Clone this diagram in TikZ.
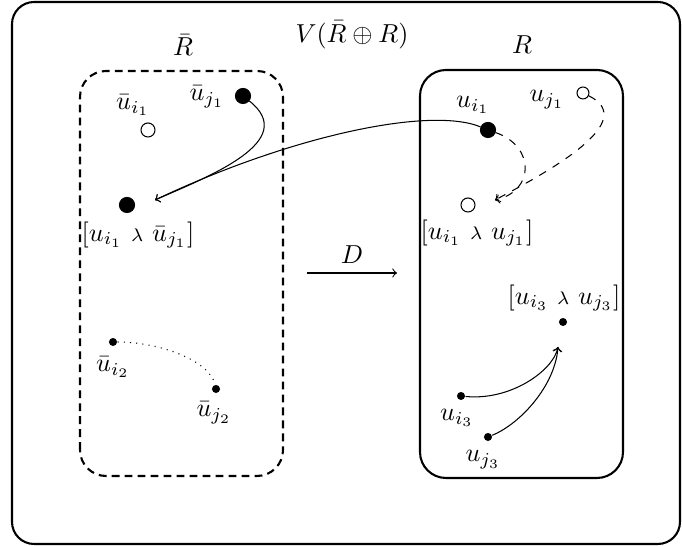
\documentclass[tikz,border=0pt]{standalone}
\begin{document}
\begin{tikzpicture}[x=0.385pt,y=0.385pt,
  frame/.style={draw, line width=0.8pt, rounded corners=8.5pt},
  solidbox/.style={draw, line width=0.8pt, rounded corners=10pt},
  dashbox/.style={draw, line width=0.8pt, rounded corners=10pt, dash pattern=on 3pt off 2pt},
  fdot/.style={circle, fill, draw, inner sep=0pt, minimum size=5.8pt},
  odot/.style={circle, draw, fill=white, inner sep=0pt, minimum size=5.4pt},
  sodot/.style={circle, draw, fill=white, inner sep=0pt, minimum size=4.6pt},
  sdot/.style={circle, fill, inner sep=0pt, minimum size=3.1pt},
  lbl/.style={inner sep=1pt},
  conn/.style={->, line width=0.4pt}]
\useasboundingbox (0,0) rectangle (682,546);
% frames
\draw[frame] (12,2) rectangle (680,544);
\draw[dashbox] (80,70) rectangle (283,475);
\draw[solidbox] (420,68) rectangle (623,476);
% titles
\node[lbl] (tRbar) at (183,501) {$\bar R$};
\node[lbl] (tV) at (352,511) {$V(\bar R\oplus R)$};
\node[lbl] (tR) at (522,501) {$R$};
% left box
\node[lbl] (lubi1) at (133,441) {$\bar u_{i_1}$};
\node[odot] (ubi1) at (148,416) {};
\node[lbl] (lubj1) at (207,449) {$\bar u_{j_1}$};
\node[fdot] (ubj1) at (243,450) {};
\node[fdot] (c1) at (127,341) {};
\node[lbl] (lc1) at (138,311) {$[u_{i_1}\ {\scriptstyle\lambda}\ \bar u_{j_1}]$};
\coordinate (t1) at (155,346);
\node[sdot] (ubi2) at (113,204) {};
\node[lbl] (lubi2) at (113,179) {$\bar u_{i_2}$};
\node[sdot] (ubj2) at (216,157) {};
\node[lbl] (lubj2) at (214,133) {$\bar u_{j_2}$};
% right box
\node[lbl] (lui1) at (473,441) {$u_{i_1}$};
\node[fdot] (ui1) at (488,416) {};
\node[lbl] (luj1) at (547,446) {$u_{j_1}$};
\node[sodot] (uj1) at (583,453) {};
\node[odot] (c2) at (468,341) {};
\node[lbl] (lc2) at (477,313) {$[u_{i_1}\ {\scriptstyle\lambda}\ u_{j_1}]$};
\coordinate (t2) at (495,346);
\node[lbl] (lc3) at (564,248) {$[u_{i_3}\ {\scriptstyle\lambda}\ u_{j_3}]$};
\node[sdot] (c3) at (563,224) {};
\coordinate (t3) at (558,199);
\node[sdot] (ui3) at (461,150) {};
\node[lbl] (lui3) at (457,128) {$u_{i_3}$};
\node[sdot] (uj3) at (488,109) {};
\node[lbl] (luj3) at (483,86) {$u_{j_3}$};
% D arrow
\coordinate (Da) at (307,273);
\coordinate (Db) at (397,273);
\draw[conn] (Da) -- node[above] {$D$} (Db);
% connectors
\draw[conn] (ubj1) .. controls (300,405) and (210,370) .. (t1);
\draw[conn] (ui1) .. controls (430,440) and (290,410) .. (t1);
\draw[conn, dashed] (ui1) .. controls (535,400) and (535,355) .. (t2);
\draw[conn, dashed] (uj1) .. controls (640,425) and (550,375) .. (t2);
\draw[conn] (ui3) .. controls (510,145) and (553,175) .. (t3);
\draw[conn] (uj3) .. controls (520,122) and (555,160) .. (t3);
\draw[line width=0.4pt, dotted] (ubi2) .. controls (160,204) and (210,185) .. (ubj2);
\end{tikzpicture}
\end{document}
